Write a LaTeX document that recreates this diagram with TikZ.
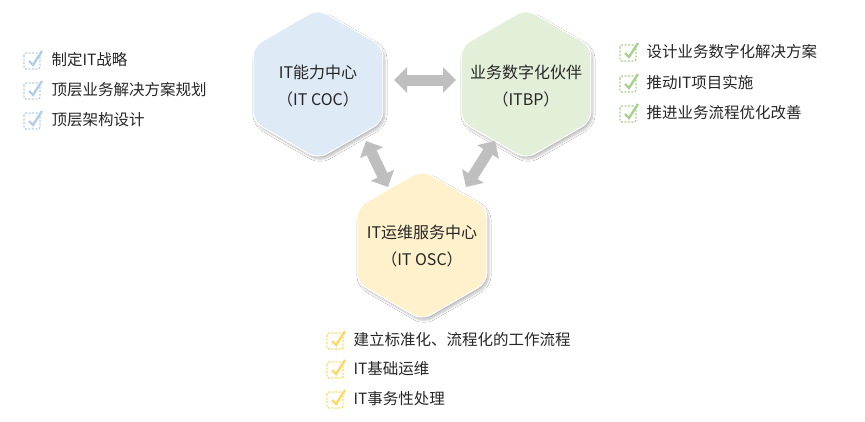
\documentclass[tikz,border=0pt]{standalone}
\usepackage{fontspec}
\setmainfont{Noto Sans CJK SC}
\usetikzlibrary{arrows.meta,shadows.blur,calc}
\definecolor{cblue}{HTML}{DEEAF6}
\definecolor{cgreen}{HTML}{E3EFD9}
\definecolor{cyel}{HTML}{FFF1CC}
\definecolor{iblue}{HTML}{B4CEEA}
\definecolor{igreen}{HTML}{A9D18E}
\definecolor{iyel}{HTML}{FFD966}
\definecolor{agray}{HTML}{BFBFBF}
\tikzset{
 hexa/.style={fill=#1,draw=white,line width=1pt,rounded corners=10pt,blur shadow={shadow blur steps=8,shadow xshift=2pt,shadow yshift=-3pt,shadow opacity=25}},
 lbl/.style={font=\fontsize{16}{27}\selectfont,align=center,text=black!85},
 item/.style={anchor=west,font=\fontsize{15.5}{17}\selectfont,text=black!85},
 dbl/.style={agray,line width=11pt,{Triangle[width=25pt,length=13pt]}-{Triangle[width=25pt,length=13pt]}},
}
\newcommand{\hexat}[3]{\fill[hexa=#3] ($(#1,#2)+(90:75)$) -- ($(#1,#2)+(150:75)$) -- ($(#1,#2)+(210:75)$) -- ($(#1,#2)+(270:75)$) -- ($(#1,#2)+(330:75)$) -- ($(#1,#2)+(30:75)$) -- cycle;}
\newcommand{\chk}[3]{%
 \draw[#3,line width=1.3pt,rounded corners=2pt,dash pattern=on 2pt off 1.5pt] (#1-8,#2-7) rectangle (#1+8,#2+9);
 \draw[#3,line width=2.4pt] (#1-3,#2+1) -- (#1+1,#2+5) -- (#1+10,#2-9);}
\begin{document}
\begin{tikzpicture}[x=1pt,y=-1pt]
\useasboundingbox[fill=white] (0,0) rectangle (865,421);
\hexat{318}{84}{cblue}
\hexat{526}{84}{cgreen}
\hexat{422}{245}{cyel}
\node[lbl] (coc) at (318,86) {IT能力中心\\（IT COC）};
\node[lbl] (itbp) at (526,86) {业务数字化伙伴\\（ITBP）};
\node[lbl] (osc) at (422,246) {IT运维服务中心\\（IT OSC）};
\coordinate (a1) at (394,80); \coordinate (a2) at (456,80);
\coordinate (b1) at (366,141); \coordinate (b2) at (388,187);
\coordinate (c1) at (495,141); \coordinate (c2) at (466,187);
\draw[dbl] (a1) -- (a2);
\draw[dbl] (b1) -- (b2);
\draw[dbl] (c1) -- (c2);
\foreach \y/\t in {60/制定IT战略,90/顶层业务解决方案规划,120/顶层架构设计}{
 \chk{32}{\y}{iblue}\node[item] at (48,\y) {\t};}
\foreach \y/\t in {52/设计业务数字化解决方案,83/推动IT项目实施,113/推进业务流程优化改善}{
 \chk{628}{\y}{igreen}\node[item] at (643,\y) {\t};}
\foreach \y/\t in {340/建立标准化、流程化的工作流程,369/IT基础运维,399/IT事务性处理}{
 \chk{335}{\y}{iyel}\node[item] at (350,\y) {\t};}
\end{tikzpicture}
\end{document}
